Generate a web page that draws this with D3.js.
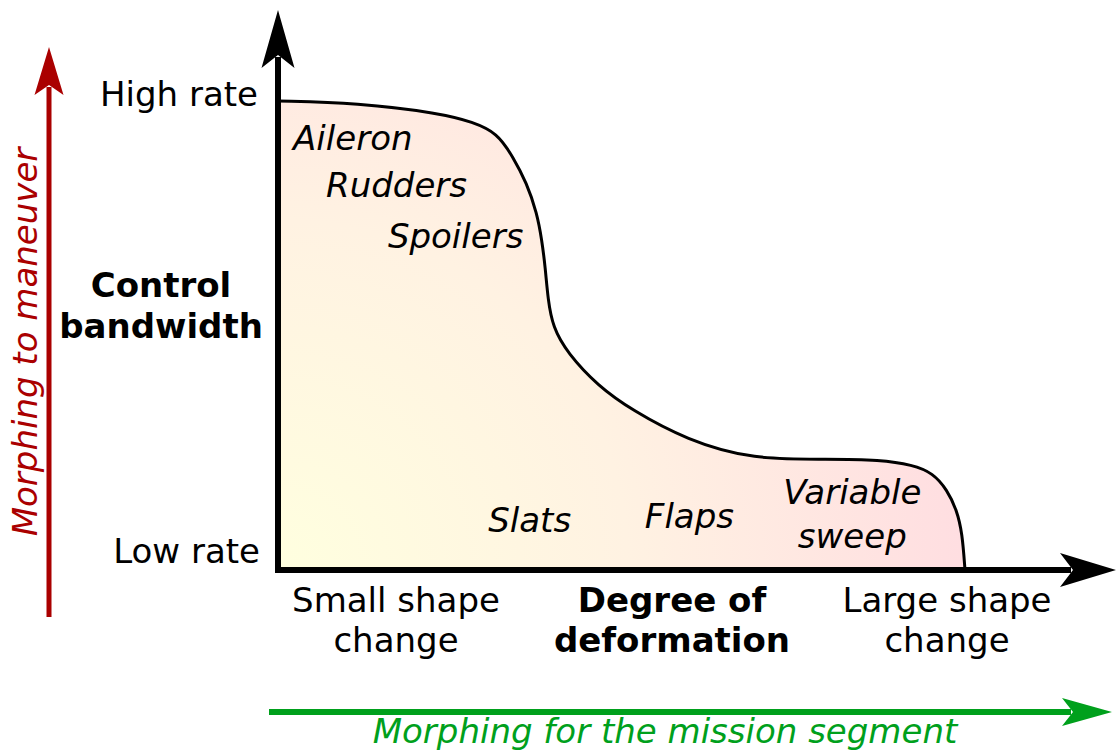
<!DOCTYPE html>
<html>
<head>
<meta charset="utf-8">
<script src="https://cdn.jsdelivr.net/npm/d3@7"></script>
<style>
  body { margin: 0; background: #fff; }
  svg text { font-family: "DejaVu Sans", Verdana, sans-serif; }
</style>
</head>
<body>
<svg id="chart"></svg>
<script>
'use strict';

const WIDTH = 1117;
const HEIGHT = 751;
const FONT = 34;

// curve: control bandwidth (0..100) against degree of deformation (0..100)
const deformation = [0, 11.5, 23.6, 28.4, 31.9, 34.2, 36.2, 37.7, 38.4, 38.9, 39.3, 40.0, 42.1, 46.6, 51.5, 59.5, 69.1, 80.3, 87.6, 92.4, 95.3, 97.4, 98.8, 99.6, 100];
const bandwidth   = [100, 99.6, 97.4, 95.5, 93.2, 88.1, 82.5, 76.1, 70.4, 64.6, 57.6, 51.8, 46.3, 39.2, 34.1, 27.7, 23.5, 23.7, 23.5, 22.4, 20.7, 17.1, 12.8, 7.9, 0];

// mechanisms written inside the area
const mechanisms = ["Aileron", "Rudders", "Spoilers", "Slats", "Flaps", "Variable sweep"];
const mechDeform = [2.2, 7.0, 16.0, 30.6, 53.4, 83.6];
const mechBand   = [89.6, 79.6, 68.6, 8.1, 9.0, 14.1];

const yTickLabels = ["Low rate", "High rate"];
const xTickLabels = ["Small shape change", "Large shape change"];

const svg = d3.select("svg#chart")
              .attr("width", WIDTH)
              .attr("height", HEIGHT);

const xScale = d3.scaleLinear().domain([0, 100]).range([278, 965]);
const yScale = d3.scaleLinear().domain([0, 100]).range([570, 101]);

const points = deformation.map((d, i) => ({x: d, y: bandwidth[i]}));
const curve = d3.curveBasis;

// fill gradient, yellow in the corner to pink outward
const grad = svg.append("defs").append("radialGradient")
                .attr("id", "fillGrad")
                .attr("gradientUnits", "userSpaceOnUse")
                .attr("cx", xScale(0)).attr("cy", yScale(0))
                .attr("r", 700);
grad.append("stop").attr("offset", 0).attr("stop-color", "#ffffdf");
grad.append("stop").attr("offset", 0.5).attr("stop-color", "#fff2e2");
grad.append("stop").attr("offset", 1).attr("stop-color", "#ffdde1");

svg.append("path")
   .datum(points)
   .attr("fill", "url(#fillGrad)")
   .attr("d", d3.area().x(d => xScale(d.x))
                       .y0(yScale(0))
                       .y1(d => yScale(d.y))
                       .curve(curve));

svg.append("path")
   .datum(points)
   .attr("fill", "none")
   .attr("stroke", "#000")
   .attr("stroke-width", 3)
   .attr("d", d3.line().x(d => xScale(d.x))
                       .y(d => yScale(d.y))
                       .curve(curve));

// arrow with a notched head
const arrow = (x1, y1, x2, y2, color, width, headLen, headHalf, notch) => {
    const len = Math.hypot(x2 - x1, y2 - y1);
    const ux = (x2 - x1) / len, uy = (y2 - y1) / len;
    const nx = -uy, ny = ux;
    const g = svg.append("g");
    g.append("line")
     .attr("x1", x1).attr("y1", y1)
     .attr("x2", x2 - ux * (notch + 2)).attr("y2", y2 - uy * (notch + 2))
     .attr("stroke", color)
     .attr("stroke-width", width);
    const head = [
        [x2, y2],
        [x2 - ux * headLen + nx * headHalf, y2 - uy * headLen + ny * headHalf],
        [x2 - ux * notch, y2 - uy * notch],
        [x2 - ux * headLen - nx * headHalf, y2 - uy * headLen - ny * headHalf]
    ];
    g.append("path")
     .attr("d", "M" + head.map(p => p.join(",")).join("L") + "Z")
     .attr("fill", color);
};

arrow(xScale(0), yScale(0) + 3, xScale(0), 10, "#000", 6, 58, 16.5, 45);
arrow(xScale(0) - 3, yScale(0), 1116, yScale(0), "#000", 6, 56, 17, 43);
arrow(49, 617, 49, 47, "#aa0000", 5, 48, 14.5, 38);
arrow(269, 712, 1112, 712, "#00a01c", 6, 50, 14, 39);

// tick labels on the bandwidth axis
svg.append("text")
   .attr("x", xScale(0) - 20).attr("y", yScale(100) + 5)
   .attr("text-anchor", "end")
   .attr("font-size", FONT)
   .text(yTickLabels[1]);
svg.append("text")
   .attr("x", xScale(0) - 18).attr("y", yScale(0) - 7)
   .attr("text-anchor", "end")
   .attr("font-size", FONT)
   .text(yTickLabels[0]);

// two-line text helper
const twoLines = (x, y, lines, opts) => {
    const t = svg.append("text")
                 .attr("x", x).attr("y", y)
                 .attr("text-anchor", "middle")
                 .attr("font-size", FONT)
                 .attr("font-weight", opts.bold ? "bold" : null)
                 .attr("font-style", opts.italic ? "italic" : null);
    lines.forEach((s, i) => {
        t.append("tspan").attr("x", x).attr("dy", i == 0 ? 0 : opts.gap).text(s);
    });
};

twoLines(161, 297, ["Control", "bandwidth"], {bold: true, gap: 41});
twoLines(672, 612, ["Degree of", "deformation"], {bold: true, gap: 40});
twoLines(396, 612, ["Small shape", "change"], {gap: 40});
twoLines(947, 612, ["Large shape", "change"], {gap: 40});

// mechanism labels
mechanisms.forEach((m, i) => {
    const words = m.split(" ");
    if (words.length > 1) {
        twoLines(xScale(mechDeform[i]), yScale(mechBand[i]), words, {italic: true, gap: 44});
    } else {
        svg.append("text")
           .attr("x", xScale(mechDeform[i])).attr("y", yScale(mechBand[i]))
           .attr("font-size", FONT)
           .attr("font-style", "italic")
           .text(m);
    }
});

// purpose arrows captions
svg.append("text")
   .attr("transform", "translate(37,342) rotate(-90)")
   .attr("text-anchor", "middle")
   .attr("font-size", FONT)
   .attr("font-style", "italic")
   .attr("fill", "#aa0000")
   .text("Morphing to maneuver");

svg.append("text")
   .attr("x", 665).attr("y", 743)
   .attr("text-anchor", "middle")
   .attr("font-size", FONT)
   .attr("font-style", "italic")
   .attr("fill", "#00a01c")
   .text("Morphing for the mission segment");
</script>
</body>
</html>
